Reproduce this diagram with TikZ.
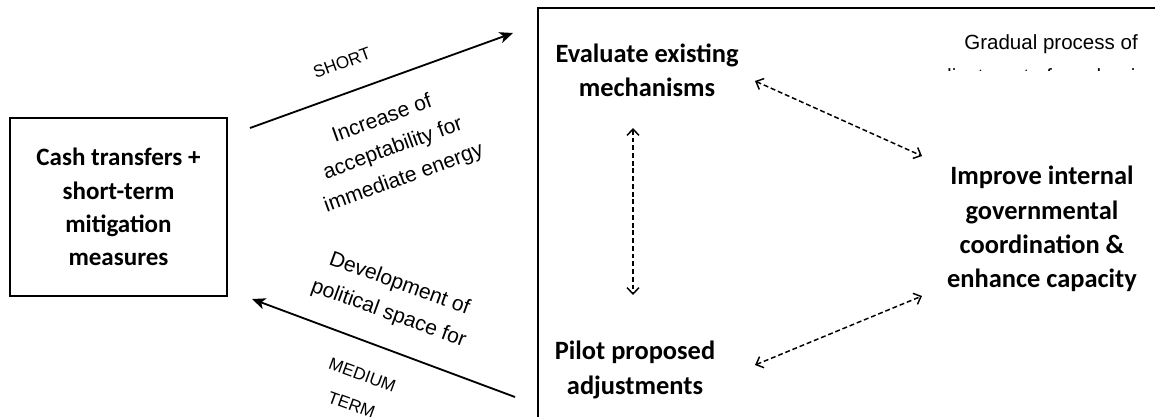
\documentclass[tikz,border=0pt]{standalone}
\usepackage{fontspec}
\setmainfont{Liberation Sans}
\newfontfamily\boxfont{Carlito}
\usepackage{tikz}
\usetikzlibrary{arrows.meta}
\usetikzlibrary{positioning}

\begin{document}
\begin{tikzpicture}
	[
	x=0.025cm, y=-0.025cm,
	>=Stealth,
	stage/.style = {align=center, inner sep=0pt, font=\boxfont\bfseries\fontsize{18.8}{24.4}\selectfont},
	remark/.style = {align=center, inner sep=0pt, font=\fontsize{15}{22.5}\selectfont},
	span/.style = {align=center, inner sep=0pt, font=\fontsize{12.2}{22.5}\selectfont},
	flow/.style = {->, line width=1.3pt, >={Stealth[length=9.5pt,width=8pt,inset=2.5pt]}},
	link/.style = {<->, line width=1.05pt, dash pattern=on 3.5pt off 2pt, >={Straight Barb[length=4.5pt,width=8.5pt]}}
	]
	\useasboundingbox (0,0) rectangle (1155,416);
	\clip (0,0) rectangle (1155,416);

	\node[stage, font=\boxfont\bfseries\fontsize{17.8}{23.7}\selectfont, draw, line width=1.4pt, minimum width=5.425cm, minimum height=4.45cm] (cash) at (118.5,207) {Cash transfers +\\short-term\\mitigation\\measures};
	\draw[line width=1.1pt] (538,8) rectangle (1180,440);

	\node[stage] (eval) at (647,70) {Evaluate existing\\mechanisms};
	\node[stage] (pilot) at (635,370) {Pilot proposed\\adjustments};
	\node[stage] (improve) at (1042,229) {Improve internal\\governmental\\coordination \&\\enhance capacity};

	% text of the frame, cut off below its first line
	\begin{scope}
		\clip (840,0) rectangle (1155,70);
		\node[remark, font=\fontsize{14.6}{24}\selectfont] (gradual) at (1051,61) {Gradual process of\\adjustment of mechanisms};
	\end{scope}

	\coordinate (s1) at (250,128);
	\coordinate (s2) at (513,33);
	\coordinate (m1) at (515,397);
	\coordinate (m2) at (252,299);
	\draw[flow] (s1) -- (s2);
	\draw[flow] (m1) -- (m2);

	\node[span, rotate=20] (short) at (342,63) {SHORT};
	\node[remark, rotate=20] (gain) at (393,149) {Increase of\\acceptability for\\immediate energy};
	\node[remark, rotate=-20] (room) at (394,299) {Development of\\political space for};
	\node[span, rotate=-20] (medium) at (357,390) {MEDIUM\\TERM};

	\coordinate (e1) at (755,81);
	\coordinate (i1) at (922,156);
	\coordinate (e2) at (633,128);
	\coordinate (p2) at (633,295);
	\coordinate (p1) at (755,365);
	\coordinate (i2) at (922,296);
	\draw[link] (e1) -- (i1);
	\draw[link] (e2) -- (p2);
	\draw[link] (p1) -- (i2);
\end{tikzpicture}
\end{document}
